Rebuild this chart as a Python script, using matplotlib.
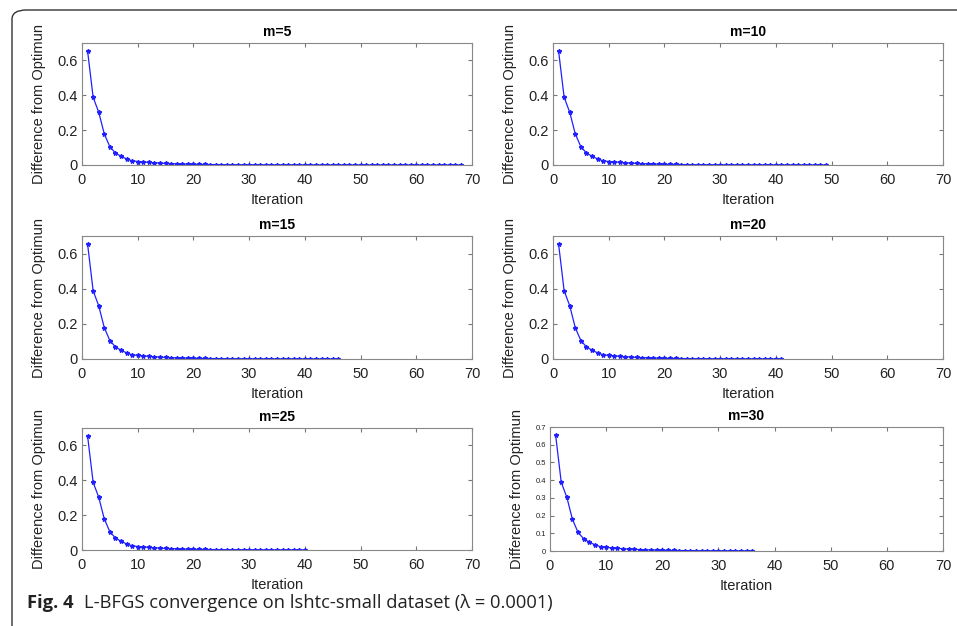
import matplotlib
matplotlib.use("Agg")
import matplotlib.pyplot as plt
from matplotlib.patches import FancyBboxPatch

# Data
memory_sizes = [5, 10, 15, 20, 25, 30]
n_iterations = [68, 49, 46, 41, 40, 36]
diff_from_optimum = [
    0.655, 0.388, 0.303, 0.178, 0.105, 0.069, 0.050, 0.035, 0.024, 0.020,
    0.018, 0.015, 0.013, 0.011, 0.009, 0.008, 0.007, 0.006, 0.005, 0.004,
    0.0035, 0.0030, 0.0027, 0.0024, 0.0021, 0.0019, 0.0017, 0.0015, 0.0014, 0.0013,
    0.0012, 0.0011, 0.0010, 0.0009, 0.0008, 0.0008, 0.0007, 0.0007, 0.0006, 0.0006,
    0.0005, 0.0005, 0.0005, 0.0004, 0.0004, 0.0004, 0.0003, 0.0003, 0.0003, 0.0003,
    0.0002, 0.0002, 0.0002, 0.0002, 0.0002, 0.0002, 0.0001, 0.0001, 0.0001, 0.0001,
    0.0001, 0.0001, 0.0001, 0.0001, 0.0001, 0.0001, 0.0001, 0.0001,
]

plt.rcParams['font.family'] = ['Liberation Sans', 'DejaVu Sans']

W, H = 957, 626
fig = plt.figure(figsize=(W / 100, H / 100), dpi=100)


def px_rect(x0, x1, ytop, ybot):
    return [x0 / W, 1 - ybot / H, (x1 - x0) / W, (ybot - ytop) / H]


# axes boxes in pixels: left, right, top, bottom
boxes = [(82, 472, 43, 165), (553, 943, 43, 165),
         (82, 472, 236, 359), (553, 943, 236, 359),
         (82, 472, 428, 550), (550, 943, 427, 551)]

for i, (m, n) in enumerate(zip(memory_sizes, n_iterations)):
    ax = fig.add_axes(px_rect(*boxes[i]))
    iters = list(range(1, n + 1))
    ax.plot(iters, diff_from_optimum[:n], color='#2020ff', linewidth=0.9,
            marker='*', markersize=3.2)
    ax.set_xlim(0, 70)
    ax.set_ylim(0, 0.7)
    ax.set_xticks(range(0, 71, 10))
    if m == 30:
        ax.set_yticks([0, 0.1, 0.2, 0.3, 0.4, 0.5, 0.6, 0.7])
        ax.set_yticklabels(['0', '0.1', '0.2', '0.3', '0.4', '0.5', '0.6', '0.7'])
        ax.tick_params(axis='y', labelsize=5.5)
        ax.tick_params(axis='x', labelsize=10.5)
    else:
        ax.set_yticks([0, 0.2, 0.4, 0.6])
        ax.set_yticklabels(['0', '0.2', '0.4', '0.6'])
        ax.tick_params(labelsize=10.5)
    ax.tick_params(direction='in', top=True, right=True, length=3,
                   color='#777777', labelcolor='#222222', pad=3)
    ax.tick_params(axis='x', pad=6)
    for sp in ax.spines.values():
        sp.set_color('#888888')
        sp.set_linewidth(0.8)
    ax.set_title(f'm={m}', fontsize=10, fontweight='bold', pad=5)
    ax.set_xlabel('Iteration', fontsize=10.5, color='#222222', labelpad=4)
    ax.set_ylabel('Difference from Optimun', fontsize=10.5, color='#222222', labelpad=8)

# rounded frame around the figure
frame = FancyBboxPatch((12 / W, -40 / H), 1.2, (H - 10 + 40) / H,
                       boxstyle="round,pad=0,rounding_size=0.015",
                       transform=fig.transFigure, fill=False,
                       edgecolor='#333333', linewidth=1.0)
fig.patches.append(frame)

# caption
fig.text(27 / W, 1 - 603 / H, 'Fig. 4', fontsize=13.2, fontweight='bold',
         family=['Open Sans', 'DejaVu Sans'], va='center', color='#222222')
fig.text(84 / W, 1 - 603 / H, 'L-BFGS convergence on lshtc-small dataset (λ = 0.0001)',
         fontsize=13.2, family=['Open Sans', 'DejaVu Sans'], va='center', color='#222222')

fig.savefig('out.png', dpi=100)
